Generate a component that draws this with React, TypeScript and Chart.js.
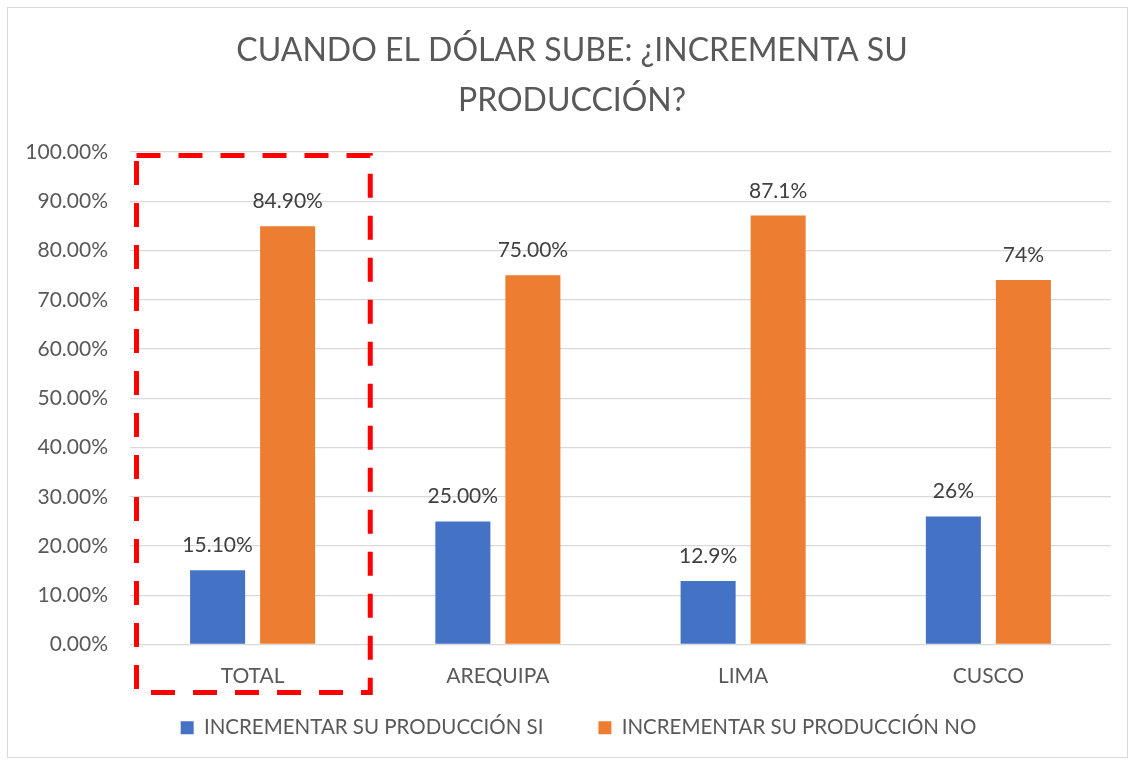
import React, { useEffect, useRef } from "react";
import { Chart, registerables } from "chart.js";

Chart.register(...registerables);

const categories = ["TOTAL", "AREQUIPA", "LIMA", "CUSCO"];
const seriesSi = [15.1, 25.0, 12.9, 26.0];
const seriesNo = [84.9, 75.0, 87.1, 74.0];
const labelsSi = ["15.10%", "25.00%", "12.9%", "26%"];
const labelsNo = ["84.90%", "75.00%", "87.1%", "74%"];
const seriesNames = ["INCREMENTAR SU PRODUCCIÓN SI", "INCREMENTAR SU PRODUCCIÓN NO"];
const titleLines = ["CUANDO EL DÓLAR SUBE: ¿INCREMENTA SU", "PRODUCCIÓN?"];

const FONT = "Lato, 'Open Sans', sans-serif";
const TEXT = "#595959";

const backgroundPlugin = {
  id: "bg",
  beforeDraw(chart: any) {
    const ctx = chart.ctx;
    ctx.save();
    ctx.fillStyle = "#ffffff";
    ctx.fillRect(0, 0, chart.width, chart.height);
    ctx.strokeStyle = "#D9D9D9";
    ctx.lineWidth = 1;
    ctx.strokeRect(7.5, 7.5, 1120, 750);
    ctx.restore();
  },
};

const titlePlugin = {
  id: "twoLineTitle",
  afterDraw(chart: any) {
    const ctx = chart.ctx;
    ctx.save();
    ctx.fillStyle = TEXT;
    ctx.font = `32px ${FONT}`;
    ctx.textAlign = "center";
    ctx.textBaseline = "middle";
    ctx.fillText(titleLines[0], 572, 51);
    ctx.fillText(titleLines[1], 572, 101);
    ctx.restore();
  },
};

const dataLabelPlugin = {
  id: "dataLabels",
  afterDatasetsDraw(chart: any) {
    const ctx = chart.ctx;
    const lists = [labelsSi, labelsNo];
    ctx.save();
    ctx.fillStyle = "#404040";
    ctx.font = `21px ${FONT}`;
    ctx.textAlign = "center";
    ctx.textBaseline = "alphabetic";
    chart.data.datasets.forEach((_: any, di: number) => {
      const meta = chart.getDatasetMeta(di);
      meta.data.forEach((bar: any, i: number) => {
        ctx.fillText(lists[di][i], bar.x, bar.y - 18);
      });
    });
    ctx.restore();
  },
};

const highlightPlugin = {
  id: "highlight",
  afterDraw(chart: any) {
    const x = chart.scales.x;
    const y = chart.scales.y;
    const cw = (x.right - x.left) / categories.length;
    const cx = x.getPixelForValue(0);
    const left = cx - cw / 2 + 6.5;
    const right = cx + cw / 2 - 5;
    const top = y.getPixelForValue(100) + 3.5;
    const bottom = y.bottom + 48;
    const ctx = chart.ctx;
    ctx.save();
    ctx.strokeStyle = "#FF0000";
    ctx.lineWidth = 5;
    ctx.setLineDash([24, 18]);
    ctx.strokeRect(left, top, right - left, bottom - top);
    ctx.restore();
  },
};

export default function App() {
  const ref = useRef<HTMLCanvasElement>(null);

  useEffect(() => {
    document.body.style.margin = "0";
    const chart = new Chart(ref.current!, {
      type: "bar",
      data: {
        labels: categories,
        datasets: [
          {
            label: seriesNames[0],
            data: seriesSi,
            backgroundColor: "#4472C4",
            categoryPercentage: 0.571,
            barPercentage: 0.786,
          },
          {
            label: seriesNames[1],
            data: seriesNo,
            backgroundColor: "#ED7D31",
            categoryPercentage: 0.571,
            barPercentage: 0.786,
          },
        ],
      },
      options: {
        animation: false,
        responsive: false,
        maintainAspectRatio: false,
        layout: { padding: { top: 152, left: 46, right: 19, bottom: 13 } },
        plugins: {
          title: { display: false },
          tooltip: { enabled: false },
          legend: {
            position: "bottom",
            labels: {
              boxWidth: 13,
              boxHeight: 13,
              padding: 55,
              color: TEXT,
              font: { family: FONT, size: 20.5 },
            },
          },
        },
        scales: {
          x: {
            grid: { display: false },
            border: { display: false },
            ticks: { color: TEXT, font: { family: FONT, size: 21 }, padding: 11 },
            afterFit(scale: any) {
              scale.height = 18;
              // let the category labels draw below the shortened axis box
              scale._computeLabelArea = () => undefined;
            },
          },
          y: {
            min: 0,
            max: 100,
            ticks: {
              stepSize: 10,
              color: TEXT,
              font: { family: FONT, size: 21 },
              padding: 22,
              callback: (v: any) => Number(v).toFixed(2) + "%",
            },
            grid: { color: "#D9D9D9", lineWidth: 1.3, drawTicks: false },
            border: { display: false },
            afterFit(scale: any) {
              scale.width = 84;
              scale._computeLabelArea = () => undefined;
            },
          },
        },
      },
      plugins: [backgroundPlugin, titlePlugin, dataLabelPlugin, highlightPlugin],
    });
    return () => chart.destroy();
  }, []);

  return (
    <div style={{ width: 1130, height: 761 }}>
      <canvas ref={ref} width={1130} height={761} style={{ display: "block" }} />
    </div>
  );
}
